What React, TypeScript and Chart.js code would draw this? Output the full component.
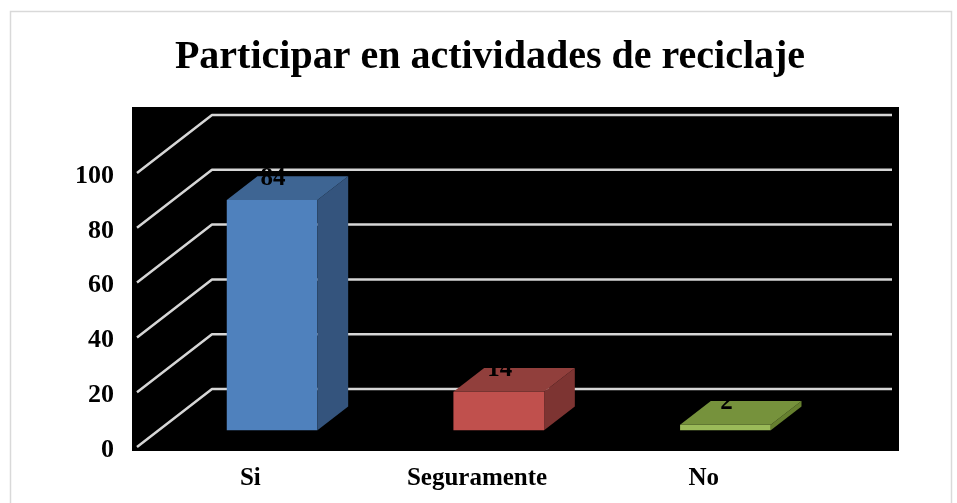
import React, { useEffect, useRef } from "react";
import { Chart, registerables } from "chart.js";

Chart.register(...registerables);

const TITLE = "Participar en actividades de reciclaje";
const categories = ["Si", "Seguramente", "No"];
const values = [84, 14, 2];
const yTicks = [0, 20, 40, 60, 80, 100];

const frontColors = ["#4F81BD", "#C0504D", "#9BBB59"];
const topColors = ["#3E6593", "#913F3C", "#76923C"];
const sideColors = ["#34547D", "#7D3432", "#66802F"];

// perspective geometry (pixels)
const DEPTH_DX = 75;
const DEPTH_DY = -58;
const BAR_FRONT = 0.29; // fraction of floor depth where the bar front sits
const BAR_DEPTH = 0.41; // fraction of floor depth occupied by the bar

const FONT = '"Liberation Serif", "Times New Roman", serif';

const scenePlugin = {
  id: "scene3d",
  beforeDraw(chart: any) {
    const { ctx, chartArea: a, width, height } = chart;
    ctx.save();
    ctx.fillStyle = "#ffffff";
    ctx.fillRect(0, 0, width, height);
    // outer frame
    ctx.strokeStyle = "#D9D9D9";
    ctx.lineWidth = 1.5;
    ctx.strokeRect(10.5, 11.5, width - 16, height + 10);
    // title
    ctx.fillStyle = "#000";
    ctx.font = `bold 40px ${FONT}`;
    ctx.textAlign = "center";
    ctx.textBaseline = "alphabetic";
    ctx.fillText(TITLE, (a.left + a.right) / 2 + 13, 68);
    // black walls
    ctx.fillStyle = "#000";
    ctx.fillRect(a.left - 5, a.top - 66, a.right - a.left + 87, a.bottom - a.top + 70);
    // perspective gridlines
    const ys = chart.scales.y;
    ctx.strokeStyle = "#D6D6D6";
    ctx.lineWidth = 2.5;
    ctx.lineJoin = "round";
    for (const v of yTicks) {
      const y = ys.getPixelForValue(v);
      ctx.beginPath();
      ctx.moveTo(a.left, y);
      ctx.lineTo(a.left + DEPTH_DX, y + DEPTH_DY);
      ctx.lineTo(a.right + DEPTH_DX, y + DEPTH_DY);
      ctx.stroke();
    }
    ctx.restore();
  },
  beforeDatasetsDraw(chart: any) {
    const ctx = chart.ctx;
    ctx.save();
    ctx.translate(DEPTH_DX * BAR_FRONT, DEPTH_DY * BAR_FRONT);
  },
  afterDatasetsDraw(chart: any) {
    const ctx = chart.ctx;
    const meta = chart.getDatasetMeta(0);
    const bdx = DEPTH_DX * BAR_DEPTH;
    const bdy = DEPTH_DY * BAR_DEPTH;
    meta.data.forEach((bar: any, i: number) => {
      const { x, y, base, width } = bar.getProps(["x", "y", "base", "width"], true);
      const l = x - width / 2;
      const r = x + width / 2;
      // side face
      ctx.fillStyle = sideColors[i];
      ctx.beginPath();
      ctx.moveTo(r, y);
      ctx.lineTo(r + bdx, y + bdy);
      ctx.lineTo(r + bdx, base + bdy);
      ctx.lineTo(r, base);
      ctx.closePath();
      ctx.fill();
      // top face
      ctx.fillStyle = topColors[i];
      ctx.beginPath();
      ctx.moveTo(l, y);
      ctx.lineTo(l + bdx, y + bdy);
      ctx.lineTo(r + bdx, y + bdy);
      ctx.lineTo(r, y);
      ctx.closePath();
      ctx.fill();
    });
    // value labels
    ctx.fillStyle = "#000";
    ctx.font = `bold 25px ${FONT}`;
    ctx.textAlign = "center";
    ctx.textBaseline = "middle";
    meta.data.forEach((bar: any, i: number) => {
      const { x, y } = bar.getProps(["x", "y"], true);
      ctx.fillText(String(values[i]), x + 1, y + bdy + 2);
    });
    ctx.restore();
  },
};

export default function App() {
  const ref = useRef<HTMLCanvasElement | null>(null);
  useEffect(() => {
    if (!ref.current) return;
    const chart = new Chart(ref.current, {
      type: "bar",
      data: {
        labels: categories,
        datasets: [
          {
            data: values,
            backgroundColor: frontColors,
            borderWidth: 0,
            barPercentage: 0.5,
            categoryPercentage: 0.8,
            clip: false as any,
          },
        ],
      },
      options: {
        responsive: false,
        animation: false,
        layout: { padding: { left: 0, right: 140, top: 173, bottom: 0 } },
        plugins: {
          legend: { display: false },
          title: { display: false },
          tooltip: { enabled: false },
        },
        scales: {
          x: {
            grid: { display: false, drawTicks: false },
            border: { display: false },
            ticks: { color: "#000", padding: 17, font: { family: FONT, weight: "bold", size: 25 } },
            afterFit: (s: any) => {
              s.height = 56;
            },
          },
          y: {
            min: 0,
            max: 100,
            grid: { display: false, drawTicks: false },
            border: { display: false },
            ticks: {
              stepSize: 20,
              color: "#000",
              padding: 23,
              labelOffset: 3,
              font: { family: FONT, weight: "bold", size: 26 },
            },
            afterBuildTicks: (s: any) => {
              s.ticks = yTicks.map((v) => ({ value: v }));
            },
            afterFit: (s: any) => {
              s.width = 137;
            },
          },
        },
      },
      plugins: [scenePlugin],
    });
    return () => chart.destroy();
  }, []);
  return (
    <canvas
      ref={ref}
      width={957}
      height={503}
      style={{ position: "fixed", left: 0, top: 0, display: "block", width: 957, height: 503 }}
    />
  );
}
